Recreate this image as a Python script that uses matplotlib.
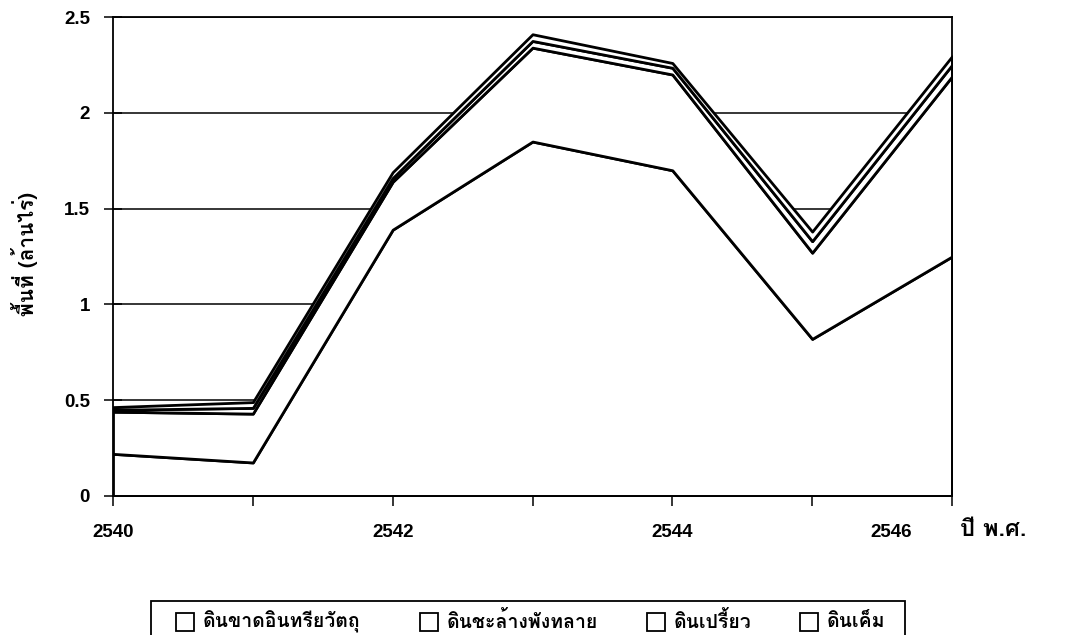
import matplotlib
matplotlib.use("Agg")
import matplotlib.pyplot as plt
from matplotlib import font_manager as fm
from matplotlib.ft2font import FT2Font
from matplotlib.transforms import ScaledTranslation
from matplotlib.patches import Rectangle

# ---- data ----
years = [2540, 2541, 2542, 2543, 2544, 2545, 2546]
series_names = ["ดินขาดอินทรียวัตถุ", "ดินชะล้างพังทลาย", "ดินเปรี้ยว", "ดินเค็ม"]
organic = [0.22, 0.175, 1.39, 1.85, 1.70, 0.82, 1.25]
erosion = [0.22, 0.255, 0.25, 0.49, 0.50, 0.45, 0.94]
acid = [0.01, 0.03, 0.02, 0.035, 0.035, 0.06, 0.06]
saline = [0.014, 0.03, 0.03, 0.035, 0.025, 0.05, 0.045]
yticks = [0, 0.5, 1, 1.5, 2, 2.5]
ytick_labels = ["0", "0.5", "1", "1.5", "2", "2.5"]
xlabel_years = [2540, 2542, 2544, 2546]
ylabel = "พื้นที่ (ล้านไร่)"
xunit = "ปี พ.ศ."

# ---- choose a sans-serif font with Thai glyphs, preferably with a bold face ----
thai = {}
for f in fm.fontManager.ttflist:
    try:
        cmap = FT2Font(f.fname).get_charmap()
    except Exception:
        continue
    if 0x0E01 in cmap and 0x0E49 in cmap:
        w = f.weight
        isbold = (w == "bold") or (isinstance(w, int) and w >= 700)
        thai.setdefault(f.name, set()).add(isbold)
prefs = ["Noto Sans Thai", "Noto Sans Thai UI", "Loma", "Garuda", "Umpush", "Waree",
         "Tlwg Typist", "Sawasdee", "Laksaman", "Kinnari", "Norasi"]
serif_like = {"Kinnari", "Norasi", "Laksaman", "Purisa", "Sawasdee"}
tf = None
for p in prefs:
    if p in thai and True in thai[p]:
        tf = p
        break
if tf is None:
    for p in prefs:
        if p in thai:
            tf = p
            break
if tf is None and thai:
    cands = [n for n in thai if n not in serif_like]
    tf = (cands or list(thai))[0]
fam = ([tf] if tf else []) + ["Liberation Sans", "DejaVu Sans"]
plt.rcParams["font.family"] = fam

W, H = 1067, 635
fig = plt.figure(figsize=(W / 100, H / 100), dpi=100)
ax = fig.add_axes([113 / W, 1 - 496 / H, (952 - 113) / W, (496 - 17) / H])

# gridlines behind the white stacked fills
ax.set_axisbelow(True)
ax.yaxis.grid(True, color="black", linewidth=1.1, zorder=0)
ax.xaxis.grid(False)

ax.stackplot(years, organic, erosion, acid, saline,
             colors=["white"] * 4, edgecolor="black", linewidth=2.0, zorder=2)

ax.set_xlim(2540, 2546)
ax.set_ylim(0, 2.5)
ax.set_yticks(yticks)
ax.set_yticklabels(ytick_labels, fontsize=13.5, fontweight="bold", family=["Liberation Sans"])
ax.set_xticks(years)
ax.set_xticklabels([str(y) if y in xlabel_years else "" for y in years],
                   fontsize=13.5, fontweight="bold", family=["Liberation Sans"])
ax.tick_params(axis="x", direction="out", length=7, width=1.1, pad=13)
ax.tick_params(axis="y", direction="inout", length=13, width=1.1, pad=10)

for y, lab in zip(years, ax.get_xticklabels()):
    if y == 2546:
        lab.set_transform(lab.get_transform() + ScaledTranslation(-61 / 100, 0, fig.dpi_scale_trans))

for sp in ax.spines.values():
    sp.set_color("black")
    sp.set_linewidth(1.3)

fig.text(24 / W, 1 - 254 / H, ylabel, rotation=90, fontsize=15, fontweight="bold",
         ha="center", va="center")

fig.text(960 / W, 1 - 530 / H, xunit, fontsize=17, fontweight="bold", ha="left", va="center")

# ---- legend (drawn as figure artists) ----
fig.patches.append(Rectangle((151 / W, -0.05), (905 - 151) / W, (1 - 601 / H) + 0.05,
                             transform=fig.transFigure, facecolor="white",
                             edgecolor="black", linewidth=1.3, zorder=1))
box_x = [176, 420, 647, 800]
for bx, name in zip(box_x, series_names):
    fig.patches.append(Rectangle((bx / W, 1 - 631 / H), 18 / W, 18 / H,
                                 transform=fig.transFigure, facecolor="white",
                                 edgecolor="black", linewidth=1.3, zorder=2))
    fig.text((bx + 27) / W, 1 - 622 / H, name, fontsize=14, fontweight="bold",
             ha="left", va="center", zorder=3)

fig.savefig("out.png", dpi=100, facecolor="white")
